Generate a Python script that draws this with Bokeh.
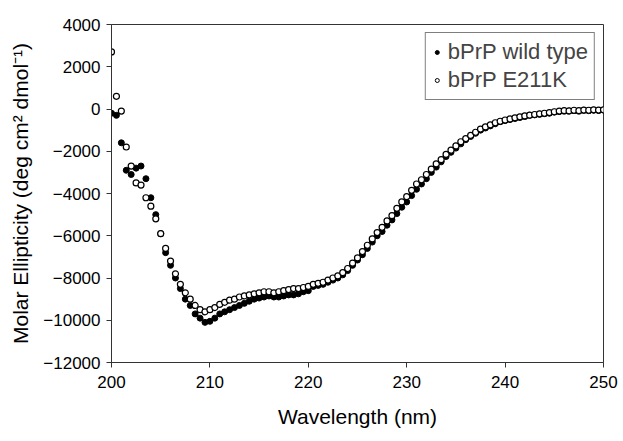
from bokeh.plotting import figure
from bokeh.models import Range1d, FixedTicker, Legend, LegendItem
from bokeh.embed import file_html
from bokeh.resources import INLINE

wavelength = [200 + 0.5 * i for i in range(101)]

wild_type = [
    -200, -300, -1600, -2900, -3100, -2800, -2700, -3300, -4200, -5000,
    -5900, -6800, -7400, -8000, -8500, -9000, -9300, -9700, -9900, -10100,
    -10050, -9900, -9700, -9600, -9500, -9400, -9300, -9200, -9100, -9000,
    -8950, -8900, -8850, -8900, -8900, -8850, -8800, -8800, -8750, -8650,
    -8600, -8400, -8350, -8300, -8200, -8100, -8000, -7850, -7650, -7400,
    -7150, -6900, -6600, -6300, -6000, -5800, -5500, -5250, -4950, -4650,
    -4400, -4100, -3800, -3550, -3300, -3000, -2750, -2500, -2250, -2050,
    -1850, -1650, -1450, -1300, -1150, -1000, -900, -800, -700, -600,
    -550, -500, -450, -400, -350, -300, -280, -250, -220, -200,
    -150, -120, -100, -100, -80, -100, -60, -80, -60, -70,
    -50,
]

e211k = [
    2700, 600, -100, -1800, -2700, -3500, -3600, -4200, -4600, -5200,
    -5900, -6600, -7200, -7800, -8300, -8700, -9000, -9300, -9500, -9600,
    -9500, -9400, -9250, -9150, -9050, -9000, -8900, -8850, -8800, -8750,
    -8700, -8650, -8650, -8700, -8650, -8600, -8550, -8500, -8500, -8450,
    -8400, -8300, -8250, -8200, -8100, -8000, -7900, -7750, -7550, -7300,
    -7050, -6750, -6450, -6150, -5850, -5600, -5300, -5050, -4700, -4400,
    -4150, -3850, -3550, -3350, -3100, -2850, -2600, -2400, -2150, -1950,
    -1750, -1550, -1400, -1250, -1100, -950, -850, -750, -650, -580,
    -520, -470, -420, -370, -330, -290, -260, -230, -200, -170,
    -130, -100, -80, -90, -60, -80, -50, -60, -40, -50,
    -40,
]

x_ticks = [200, 210, 220, 230, 240, 250]
y_ticks = [-12000, -10000, -8000, -6000, -4000, -2000, 0, 2000, 4000]
series_labels = ["bPrP wild type", "bPrP E211K"]

FONT = "Liberation Sans"

p = figure(width=620, height=438, output_backend="svg", toolbar_location=None,
           x_range=Range1d(200, 250), y_range=Range1d(-12000, 4000),
           min_border_left=111, min_border_right=17, min_border_top=24, min_border_bottom=76)
p.grid.visible = False
p.background_fill_color = "white"
p.border_fill_color = "white"
p.outline_line_color = "#333333"
p.outline_line_width = 1

r1 = p.scatter(wavelength, wild_type, size=6, marker="circle",
               fill_color="black", line_color="black", line_width=1)
r2 = p.scatter(wavelength, e211k, size=6, marker="circle",
               fill_color="white", line_color="black", line_width=1.2)

# hidden copies with smaller markers, used only for the legend swatches
l1 = p.scatter(wavelength, wild_type, size=4.5, marker="circle",
               fill_color="black", line_color="black", visible=False)
l2 = p.scatter(wavelength, e211k, size=4.5, marker="circle",
               fill_color="white", line_color="black", line_width=1, visible=False)

for ax in (p.xaxis[0], p.yaxis[0]):
    ax.axis_line_color = "#333333"
    ax.major_tick_line_color = "#333333"
    ax.minor_tick_line_color = None
    ax.major_tick_in = 0
    ax.major_tick_out = 5
    ax.major_label_text_font = FONT
    ax.major_label_text_font_size = "17px"
    ax.major_label_text_color = "black"
    ax.axis_label_text_font = FONT
    ax.axis_label_text_font_size = "21px"
    ax.axis_label_text_font_style = "normal"
    ax.axis_label_text_color = "black"

p.xaxis.ticker = FixedTicker(ticks=x_ticks)
p.yaxis.ticker = FixedTicker(ticks=y_ticks)
p.xaxis.major_label_standoff = 8
p.yaxis.major_label_standoff = 6
p.xaxis.axis_label = "Wavelength (nm)"
p.yaxis.axis_label = "Molar Ellipticity (deg cm\u00b2 dmol\u207b\u00b9)"
p.xaxis.axis_label_standoff = 14
p.yaxis.axis_label_standoff = 8

legend = Legend(items=[LegendItem(label=series_labels[0], renderers=[l1]),
                       LegendItem(label=series_labels[1], renderers=[l2])],
                location="top_right", margin=8,
                label_text_font=FONT, label_text_font_size="22px",
                glyph_width=10, glyph_height=22, spacing=2,
                padding=6, label_standoff=6, label_height=22,
                border_line_color="black", border_line_width=1,
                background_fill_alpha=1)
p.add_layout(legend)

open("out.html", "w").write(file_html(p, INLINE))
